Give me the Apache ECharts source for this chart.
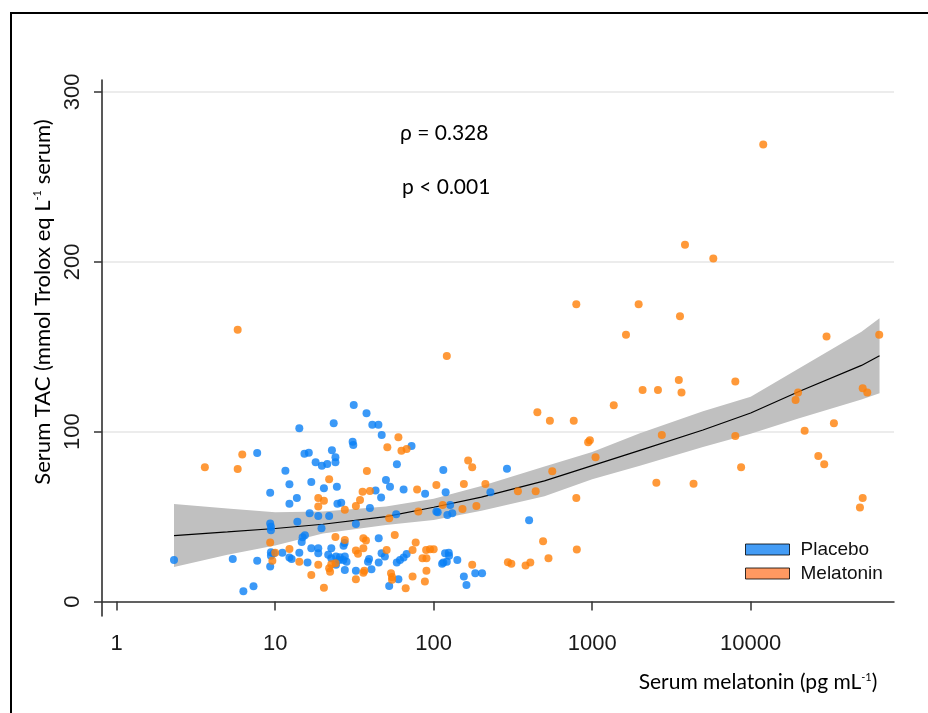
<!DOCTYPE html>
<html>
<head>
<meta charset="utf-8">
<script src="https://cdn.jsdelivr.net/npm/echarts@6/dist/echarts.min.js"></script>
<style>
  html, body { margin: 0; padding: 0; background: #fff; }
  #chart { width: 928px; height: 713px; }
</style>
</head>
<body>
<div id="chart"></div>
<script>
// serum melatonin (pg/mL) vs serum TAC
const placebo = [
  [2.3, 24.5], [5.4, 25], [6.3, 6], [7.3, 9], [7.7, 87.5], [7.7, 24], [9.3, 64], [9.4, 44], [9.4, 42],
  [9.3, 46], [9.4, 29], [9.4, 27], [9.3, 20.6], [9.8, 28.5], [11.1, 28.8], [11.6, 77], [12.3, 69],
  [12.3, 57.6], [12.3, 26], [12.7, 25], [13.7, 61], [13.8, 47], [14.2, 28.8], [14.2, 102], [23.4, 105],
  [15.3, 87], [16.3, 87.6], [22.8, 89], [24, 85], [24, 82], [18, 82], [19.7, 80], [21.3, 81], [16.9, 70.4],
  [20.3, 66.7], [24.5, 67.6], [24.7, 57.6], [26.1, 58.2], [16.5, 52], [18.7, 50.4], [21.9, 50.4],
  [19.6, 43.2], [15.4, 39], [14.9, 37.9], [14.7, 35], [16.9, 31.4], [18.7, 31.4], [18.7, 28.5],
  [22.6, 31.4], [21.6, 27.5], [22.6, 25.5], [24.2, 26.5], [25.6, 26.1], [26.9, 24.5], [27.5, 26.5],
  [16, 23], [27.5, 18.6], [31.3, 115.7], [37.7, 110.8], [41, 104], [44.8, 104], [47, 98], [30.8, 94],
  [31.1, 92.2], [72.5, 91.6], [58.6, 80.8], [115, 77.5], [50, 71.6], [53, 67.6], [64.6, 66], [43, 65.3],
  [88.3, 63.4], [46.6, 61.2], [39.6, 55], [104, 53], [58, 51.4], [32.3, 45.7], [45, 37.3], [27.4, 34.4],
  [27, 32.8], [39.1, 25], [38.5, 23.5], [46.9, 28.5], [49.2, 26.5], [67.5, 28], [64.6, 26], [61.3, 24.5],
  [58.5, 23], [25.3, 24.5], [28.2, 23.5], [24.2, 21.6], [32.3, 18.2], [40.5, 19], [45, 23], [59.9, 13.2],
  [52.4, 9.2], [118, 28.5], [121, 23.5], [115, 23], [228, 64.4], [119, 64.4], [127, 56.9], [106, 52.6],
  [122, 51], [131, 52], [113, 22.2], [124.5, 28.8], [125, 27], [141, 24.5], [155, 14.7], [161, 9.8],
  [183, 16.7], [202, 16.7], [290, 78.2], [400, 47.9]
];

const melatonin = [
  [3.6, 79], [5.8, 160], [6.2, 86.5], [5.8, 78], [9.3, 34.7], [10, 28.8], [12.3, 31], [14.2, 23.5],
  [9.6, 24], [21.9, 72], [18.7, 61], [20.3, 59.4], [18.7, 55.9], [27.5, 54], [24, 38], [27.5, 36.3],
  [18.7, 21.6], [21.9, 19.6], [22.2, 17.6], [24, 22.6], [16.9, 15.7], [20.3, 8.2], [59.9, 96.7],
  [51, 90.8], [62.6, 88.8], [67.5, 89.8], [37.9, 76.9], [104, 68.6], [78.6, 66], [35.6, 64.7],
  [39.6, 65.1], [34.3, 59.8], [32.3, 56.3], [114, 56.9], [80, 53], [52.4, 49], [36, 37.3], [37.4, 35.9],
  [56.8, 39.2], [32.3, 30], [33.3, 28.1], [36, 31.4], [50.5, 30.4], [77, 34.7], [73.6, 30.4],
  [89.6, 30.4], [94.8, 30.8], [100, 30.8], [85, 25.5], [90, 25.5], [22.6, 22], [32.3, 13.2],
  [36.5, 18.2], [36, 17], [53.8, 16.7], [54.6, 14.4], [54.6, 12.8], [73.6, 14.7], [66.6, 7.9],
  [90, 18.2], [88, 11.8], [121, 144.5], [165, 83], [175, 79], [155, 69.2], [212, 69.2], [186, 56.3],
  [152, 54.5], [175, 21.6], [794, 175], [1964, 175], [3580, 168], [1634, 157], [3520, 130.4],
  [3660, 123], [2080, 124.5], [2600, 124.5], [1368, 115.5], [451, 111.4], [541, 106.5], [765, 106.5],
  [2750, 98], [967, 95], [943, 93.8], [1050, 85], [560, 76.7], [340, 65], [440, 65], [794, 61],
  [2540, 70], [4360, 69.4], [490, 35.5], [530, 25.5], [800, 30.6], [294, 23.2], [309, 22.2],
  [380, 21.2], [407, 23], [12000, 269], [5810, 202], [3850, 210], [30100, 156], [64700, 157],
  [8000, 129.6], [19900, 123], [19200, 118.6], [50900, 125.5], [54400, 123], [33500, 105],
  [21900, 100.6], [8000, 97.5], [8700, 79], [26700, 85.7], [29100, 80.8], [50900, 61], [48900, 55.3]
];

// fitted line and its confidence band
const fitX    = [2.3, 5, 10, 20, 50, 100, 200, 500, 1000, 2000, 5000, 10000, 20000, 50000, 65000];
const fitLine = [38.8, 41, 43, 45.5, 50, 55.5, 61.5, 71, 80, 89, 101, 111, 123.5, 139, 144.7];
const fitLow  = [20.4, 27.5, 33, 40, 45, 48, 53.5, 62, 72, 80, 91, 98.8, 107.8, 119, 122.6];
const fitHigh = [57.4, 54.8, 52.6, 53, 56, 60.5, 68, 79.5, 88, 99, 112, 120.6, 137, 158.8, 166.7];

const xTicks = [1, 10, 100, 1000, 10000];
const yTicks = [0, 100, 200, 300];

const chart = echarts.init(document.getElementById('chart'), null, { renderer: 'canvas' });

const option = {
  backgroundColor: '#fff',
  animation: false,
  grid: { left: 102, right: 34, top: 80, bottom: 97 },
  legend: {
    orient: 'vertical',
    left: 745,
    top: 540,
    padding: 0,
    itemWidth: 44,
    itemHeight: 11,
    itemGap: 5,
    icon: 'rect',
    selectedMode: false,
    textStyle: { fontFamily: 'Liberation Sans', fontSize: 19, color: '#111', padding: [0, 0, 0, 6] },
    data: [
      { name: 'Placebo', itemStyle: { color: '#1583f2', borderColor: '#000', borderWidth: 1 } },
      { name: 'Melatonin', itemStyle: { color: '#ff7f3a', borderColor: '#000', borderWidth: 1 } }
    ]
  },
  xAxis: {
    type: 'log',
    logBase: 10,
    min: 0.808,
    max: 80200,
    name: 'Serum melatonin (pg mL{sup|-1})',
    nameLocation: 'middle',
    nameGap: 56,
    nameTextStyle: {
      fontFamily: 'Lato', fontSize: 21, color: '#000', padding: [0, 0, 0, 520],
      rich: { sup: { fontFamily: 'Lato', fontSize: 11, verticalAlign: 'top', lineHeight: 11 } }
    },
    axisLine: { lineStyle: { color: '#333', width: 1.5 } },
    axisTick: { customValues: xTicks, length: 9, lineStyle: { color: '#333', width: 1.5 } },
    axisLabel: {
      customValues: xTicks, margin: 17, fontFamily: 'Liberation Sans', fontSize: 22, color: '#1a1a1a',
      formatter: v => String(Math.round(v))
    },
    splitLine: { show: false }
  },
  yAxis: {
    type: 'value',
    min: -8.5,
    max: 307,
    name: 'Serum TAC (mmol Trolox eq L{sup|-1} serum)',
    nameLocation: 'middle',
    nameRotate: 90,
    nameGap: 48,
    nameTextStyle: {
      fontFamily: 'Lato', fontSize: 22, color: '#000', padding: [0, 0, 0, 92],
      rich: { sup: { fontFamily: 'Lato', fontSize: 11, verticalAlign: 'top', lineHeight: 11 } }
    },
    axisLine: { show: true, lineStyle: { color: '#222', width: 1.5 } },
    axisTick: { show: true, customValues: yTicks, length: 8, lineStyle: { color: '#333', width: 1.5 } },
    axisLabel: {
      customValues: yTicks, rotate: 90, margin: 18, fontFamily: 'Liberation Sans', fontSize: 22,
      color: '#1a1a1a'
    },
    splitLine: { show: true, lineStyle: { color: '#e6e6e6', width: 1.5 } }
  },
  series: [
    {
      // confidence band as one polygon: upper edge left to right, lower edge back
      name: 'ci', type: 'custom', silent: true, z: 1,
      data: fitX.map((x, i) => [x, fitLow[i], fitHigh[i]]),
      encode: { x: 0, y: [1, 2] },
      renderItem: function (params, api) {
        if (params.dataIndex !== 0) return;
        const pts = [];
        for (let i = 0; i < fitX.length; i++) pts.push(api.coord([fitX[i], fitHigh[i]]));
        for (let i = fitX.length - 1; i >= 0; i--) pts.push(api.coord([fitX[i], fitLow[i]]));
        return { type: 'polygon', shape: { points: pts }, style: { fill: '#c0c0c0' } };
      }
    },
    {
      name: 'fit', type: 'line', symbol: 'none', silent: true, z: 2,
      lineStyle: { color: '#000', width: 1.2 },
      data: fitX.map((x, i) => [x, fitLine[i]])
    },
    {
      name: 'Placebo', type: 'scatter', symbolSize: 8, z: 3,
      itemStyle: { color: '#0a80f5' },
      data: placebo
    },
    {
      name: 'Melatonin', type: 'scatter', symbolSize: 8, z: 3,
      itemStyle: { color: '#ff8008' },
      data: melatonin
    }
  ],
  graphic: [
    {
      type: 'rect', silent: true,
      shape: { x: 11, y: 13, width: 940, height: 720 },
      style: { fill: 'none', stroke: '#000', lineWidth: 2 }
    },
    {
      type: 'text', x: 400, y: 133,
      style: { text: 'ρ = 0.328', font: '21px Lato', fill: '#000', textVerticalAlign: 'middle' }
    },
    {
      type: 'text', x: 402, y: 187,
      style: { text: 'p < 0.001', font: '21px Lato', fill: '#000', textVerticalAlign: 'middle' }
    }
  ]
};

chart.setOption(option);
</script>
</body>
</html>
